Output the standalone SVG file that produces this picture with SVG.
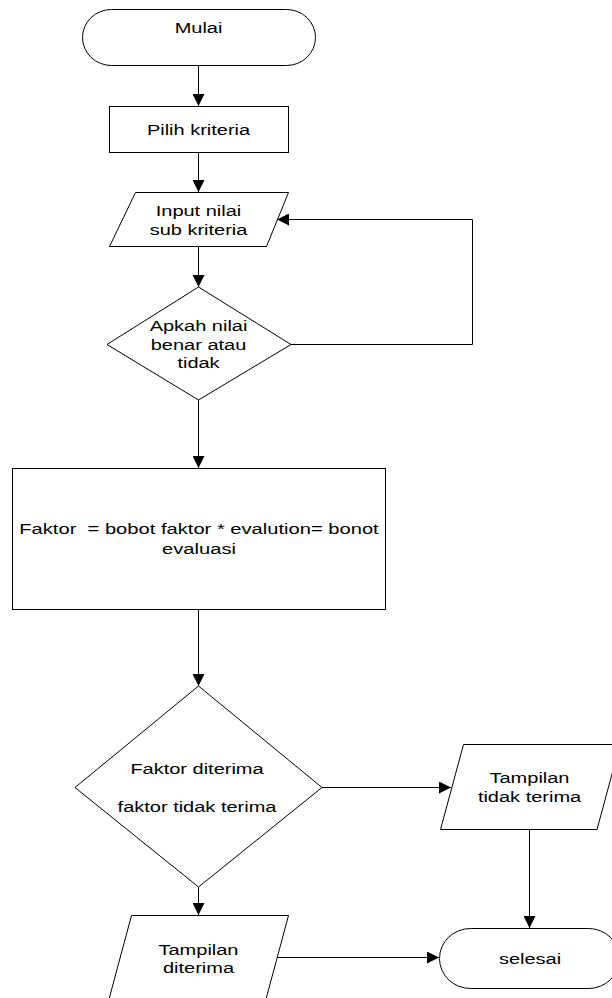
<svg xmlns="http://www.w3.org/2000/svg" width="612" height="998" viewBox="0 0 612 998">
  <style>
    .shape { fill: #fff; stroke: #000; stroke-width: 1; }
    .conn { fill: none; stroke: #000; stroke-width: 1; }
    text { font-family: "Liberation Sans", Arial, sans-serif; font-size: 15.5px; fill: #000; text-anchor: middle; }
  </style>
  <defs>
    <marker id="arrow" markerUnits="userSpaceOnUse" markerWidth="12" markerHeight="12" viewBox="0 0 12 12" refX="12" refY="6" orient="auto">
      <path d="M0,0 L12,6 L0,12 Z" fill="#000"/>
    </marker>
  </defs>

  <rect width="612" height="998" fill="#fff"/>

  <!-- connectors -->
  <g id="connectors">
    <line class="conn" x1="198.5" y1="65" x2="198.5" y2="106" marker-end="url(#arrow)"/>
    <line class="conn" x1="198.5" y1="152" x2="198.5" y2="192" marker-end="url(#arrow)"/>
    <line class="conn" x1="198.5" y1="246" x2="198.5" y2="287" marker-end="url(#arrow)"/>
    <polyline class="conn" points="291,344.5 472.5,344.5 472.5,219.5 277,219.5" marker-end="url(#arrow)"/>
    <line class="conn" x1="198.5" y1="400" x2="198.5" y2="468" marker-end="url(#arrow)"/>
    <line class="conn" x1="198.5" y1="609.5" x2="198.5" y2="686" marker-end="url(#arrow)"/>
    <line class="conn" x1="322" y1="787.5" x2="451" y2="787.5" marker-end="url(#arrow)"/>
    <line class="conn" x1="198.5" y1="887" x2="198.5" y2="915" marker-end="url(#arrow)"/>
    <line class="conn" x1="529.5" y1="829" x2="529.5" y2="928" marker-end="url(#arrow)"/>
    <line class="conn" x1="277" y1="957.5" x2="439" y2="957.5" marker-end="url(#arrow)"/>
  </g>

  <!-- start terminal -->
  <g id="mulai">
    <rect class="shape" x="82.5" y="9.5" width="233" height="56" rx="29" ry="28"/>
    <text transform="translate(198.5 33) scale(1.29 1)">Mulai</text>
  </g>

  <!-- choose criteria -->
  <g id="pilih-kriteria">
    <rect class="shape" x="109.5" y="106.5" width="179" height="46"/>
    <text transform="translate(198.5 135) scale(1.29 1)">Pilih kriteria</text>
  </g>

  <!-- input sub-criteria values -->
  <g id="input-nilai">
    <polygon class="shape" points="135.5,192.5 288.5,192.5 266.5,246.5 109.5,246.5"/>
    <text transform="translate(198.5 215.5) scale(1.29 1)">Input nilai</text>
    <text transform="translate(198.5 234.5) scale(1.29 1)">sub kriteria</text>
  </g>

  <!-- value check -->
  <g id="cek-nilai">
    <polygon class="shape" points="198.5,287 291,344.5 198.5,400 107,344.5"/>
    <text transform="translate(198.5 331) scale(1.29 1)">Apkah nilai</text>
    <text transform="translate(198.5 350) scale(1.29 1)">benar atau</text>
    <text transform="translate(198.5 368) scale(1.29 1)">tidak</text>
  </g>

  <!-- factor computation -->
  <g id="hitung-faktor">
    <rect class="shape" x="12.5" y="468.5" width="373" height="141"/>
    <text xml:space="preserve" transform="translate(199 533.5) scale(1.3 1)">Faktor  = bobot faktor * evalution= bonot</text>
    <text transform="translate(199 554) scale(1.3 1)">evaluasi</text>
  </g>

  <!-- acceptance decision -->
  <g id="keputusan">
    <polygon class="shape" points="198.5,686 322,787.5 198.5,887 75,787.5"/>
    <text transform="translate(197 774) scale(1.29 1)">Faktor diterima</text>
    <text transform="translate(197 812) scale(1.29 1)">faktor tidak terima</text>
  </g>

  <!-- rejected output -->
  <g id="tampilan-tidak-terima">
    <polygon class="shape" points="463.5,744.5 620,744.5 597,829.5 440.5,829.5"/>
    <text transform="translate(529.5 783) scale(1.29 1)">Tampilan</text>
    <text transform="translate(529.5 801.5) scale(1.29 1)">tidak terima</text>
  </g>

  <!-- accepted output -->
  <g id="tampilan-diterima">
    <polygon class="shape" points="131.5,915.5 288.5,915.5 265.5,1001 108.5,1001"/>
    <text transform="translate(198.5 955) scale(1.29 1)">Tampilan</text>
    <text transform="translate(198.5 973) scale(1.29 1)">diterima</text>
  </g>

  <!-- end terminal -->
  <g id="selesai">
    <rect class="shape" x="439.5" y="928.5" width="180" height="60" rx="31" ry="30"/>
    <text transform="translate(530 963.5) scale(1.29 1)">selesai</text>
  </g>
</svg>
